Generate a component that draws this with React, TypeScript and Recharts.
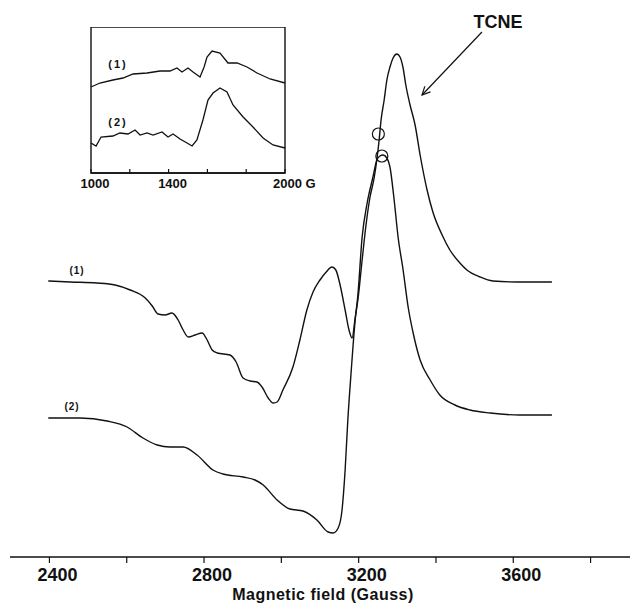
import { LineChart, Line, XAxis, YAxis, ReferenceDot, ReferenceLine, ReferenceArea } from "recharts";

// main spectrum: field (G) and signal (arbitrary units above the baseline)
const fieldSpectrum1 = [2397, 2454, 2523, 2570, 2609, 2648, 2666, 2681, 2699, 2717, 2733, 2746, 2759, 2777, 2795, 2808, 2821, 2834, 2867, 2883, 2901, 2919, 2937, 2950, 2966, 2979, 2989, 3004, 3030, 3048, 3066, 3082, 3100, 3116, 3131, 3141, 3152, 3165, 3175, 3183, 3191, 3198, 3209, 3219, 3229, 3240, 3247, 3253, 3258, 3266, 3273, 3281, 3289, 3299, 3307, 3315, 3322, 3333, 3346, 3359, 3377, 3392, 3416, 3436, 3462, 3480, 3514, 3547, 3610, 3700];
const signalSpectrum1 = [276, 275, 274, 272, 267, 259, 251, 243, 242, 244, 237, 227, 220, 222, 224, 217, 207, 204, 202, 195, 179, 176, 175, 170, 159, 154, 155, 167, 190, 217, 247, 265, 277, 285, 290, 287, 272, 247, 227, 219, 239, 257, 297, 332, 359, 379, 397, 417, 437, 457, 477, 490, 499, 503, 500, 489, 472, 452, 432, 402, 367, 345, 322, 307, 294, 287, 280, 276, 275, 275];

const fieldSpectrum2 = [2397, 2479, 2549, 2601, 2642, 2679, 2712, 2746, 2782, 2823, 2849, 2901, 2932, 2953, 2989, 3022, 3056, 3092, 3121, 3134, 3147, 3157, 3165, 3172, 3180, 3191, 3198, 3209, 3222, 3237, 3247, 3255, 3263, 3273, 3281, 3291, 3302, 3315, 3328, 3341, 3359, 3385, 3410, 3449, 3488, 3540, 3617, 3700];
const signalSpectrum2 = [139, 139, 136, 130, 119, 112, 110, 110, 102, 87, 83, 80, 77, 72, 57, 48, 46, 37, 25, 24, 29, 47, 87, 137, 182, 237, 262, 320, 354, 380, 397, 401, 402, 399, 390, 360, 320, 287, 250, 224, 197, 177, 162, 152, 147, 144, 142, 142];

// inset: low-field region
const fieldInset1 = [1000, 1046, 1113, 1165, 1217, 1289, 1356, 1407, 1443, 1469, 1500, 1526, 1562, 1583, 1598, 1624, 1665, 1706, 1753, 1804, 1856, 1923, 2000];
const signalInset1 = [86, 90, 93, 95, 99, 100, 102, 102, 105, 101, 105, 101, 96, 106, 116, 122, 120, 110, 110, 106, 100, 94, 90];
const fieldInset2 = [1000, 1026, 1052, 1113, 1149, 1191, 1227, 1253, 1289, 1320, 1366, 1397, 1423, 1459, 1495, 1521, 1546, 1577, 1603, 1629, 1665, 1701, 1732, 1784, 1835, 1887, 1938, 2000];
const signalInset2 = [30, 27, 36, 37, 40, 39, 43, 38, 40, 38, 41, 36, 39, 34, 30, 27, 33, 53, 73, 80, 85, 81, 68, 56, 46, 35, 28, 25];

const mainTicks = [2400, 2600, 2800, 3000, 3200, 3400, 3600, 3800];
const mainTickLabels = [2400, 2800, 3200, 3600];
const insetTicks = [1000, 1200, 1400, 1600, 1800, 2000];
const insetTickLabels = [1000, 1400, 2000];

const toPoints = (xs: number[], ys: number[]) => xs.map((g, i) => ({ g, v: ys[i] }));

const spectrum1 = toPoints(fieldSpectrum1, signalSpectrum1);
const spectrum2 = toPoints(fieldSpectrum2, signalSpectrum2);
const inset1 = toPoints(fieldInset1, signalInset1);
const inset2 = toPoints(fieldInset2, signalInset2);

const INK = "#111";
const FONT = "'Liberation Sans', Arial, sans-serif";

const MainTick = ({ x, y, payload }: any) => (
  <g>
    <line x1={x} y1={y} x2={x} y2={y + 6} stroke={INK} strokeWidth={1.2} />
    {mainTickLabels.includes(payload.value) && (
      <text x={x + 8} y={y + 24} textAnchor="middle" fontSize={18} fontWeight="bold" fill={INK} fontFamily={FONT}>
        {payload.value}
      </text>
    )}
  </g>
);

const InsetTick = ({ x, y, payload }: any) => {
  const v = payload.value;
  const last = v === 2000;
  return (
    <g>
      <line x1={x} y1={y} x2={x} y2={y - 4} stroke={INK} strokeWidth={1.2} />
      {insetTickLabels.includes(v) && (
        <text
          x={last ? x - 12 : x + 4}
          y={y + 15}
          textAnchor={last ? "start" : "middle"}
          fontSize={13}
          fontWeight="bold"
          fill={INK}
          fontFamily={FONT}
        >
          {last ? `${v} G` : v}
        </text>
      )}
    </g>
  );
};

const Arrow = ({ x1, y1, x2, y2 }: any) => {
  const a = Math.atan2(y2 - y1, x2 - x1);
  const len = 9;
  const h1x = x2 - len * Math.cos(a - 0.45);
  const h1y = y2 - len * Math.sin(a - 0.45);
  const h2x = x2 - len * Math.cos(a + 0.45);
  const h2y = y2 - len * Math.sin(a + 0.45);
  return (
    <g stroke={INK} strokeWidth={1.2} fill="none">
      <line x1={x1} y1={y1} x2={x2} y2={y2} />
      <polyline points={`${h1x},${h1y} ${x2},${y2} ${h2x},${h2y}`} />
    </g>
  );
};

const label = (text: string, left: number, top: number, size: number, spacing = 0) => (
  <div
    style={{
      position: "absolute",
      left,
      top,
      transform: "translate(-50%, -50%)",
      fontFamily: FONT,
      fontWeight: "bold",
      fontSize: size,
      letterSpacing: spacing,
      color: INK,
      whiteSpace: "nowrap",
      lineHeight: 1,
    }}
  >
    {text}
  </div>
);

export default function App() {
  return (
    <div style={{ position: "fixed", left: 0, top: 0, width: 630, height: 613, overflow: "hidden", background: "#fff" }}>
      <LineChart width={630} height={613} margin={{ top: 20, right: 0, bottom: 0, left: 10 }}>
        <XAxis
          type="number"
          dataKey="g"
          domain={[2298, 3902]}
          ticks={mainTicks}
          tick={<MainTick />}
          tickSize={0}
          tickMargin={0}
          height={56}
          axisLine={{ stroke: INK, strokeWidth: 1.5 }}
          tickLine={false}
          allowDataOverflow
        />
        <YAxis hide width={0} domain={[0, 537]} />
        <Line data={spectrum1} dataKey="v" type="monotone" dot={false} stroke={INK} strokeWidth={1.4} isAnimationActive={false} />
        <Line data={spectrum2} dataKey="v" type="monotone" dot={false} stroke={INK} strokeWidth={1.4} isAnimationActive={false} />
        <ReferenceDot x={3251} y={423} r={6} fill="none" stroke={INK} strokeWidth={1.2} />
        <ReferenceDot x={3260} y={401} r={6} fill="none" stroke={INK} strokeWidth={1.2} />
        <ReferenceLine
          segment={[{ x: 3519, y: 525 }, { x: 3364, y: 462 }]}
          shape={<Arrow />}
          ifOverflow="visible"
        />
      </LineChart>

      <div style={{ position: "absolute", left: 71, top: 27 }}>
        <LineChart width={264} height={171} margin={{ top: 0, right: 50, bottom: 0, left: 20 }}>
          <XAxis
            type="number"
            dataKey="g"
            domain={[1000, 2000]}
            ticks={insetTicks}
            tick={<InsetTick />}
            tickSize={0}
            tickMargin={0}
            height={25}
            axisLine={{ stroke: INK, strokeWidth: 1.4 }}
            tickLine={false}
          />
          <YAxis hide width={0} domain={[0, 146]} />
          <ReferenceArea x1={1000} x2={2000} y1={0} y2={146} fill="none" stroke={INK} strokeWidth={1.4} />
          <Line data={inset1} dataKey="v" type="linear" dot={false} stroke={INK} strokeWidth={1.3} isAnimationActive={false} />
          <Line data={inset2} dataKey="v" type="linear" dot={false} stroke={INK} strokeWidth={1.3} isAnimationActive={false} />
        </LineChart>
      </div>

      {label("TCNE", 498, 22, 18)}
      {label("(1)", 77, 271, 10, 1)}
      {label("(2)", 72, 407, 10, 1)}
      {label("(1)", 118, 64, 11, 2)}
      {label("(2)", 118, 122, 11, 2)}
      {label("Magnetic field (Gauss)", 323, 595, 16, 0.5)}
    </div>
  );
}
